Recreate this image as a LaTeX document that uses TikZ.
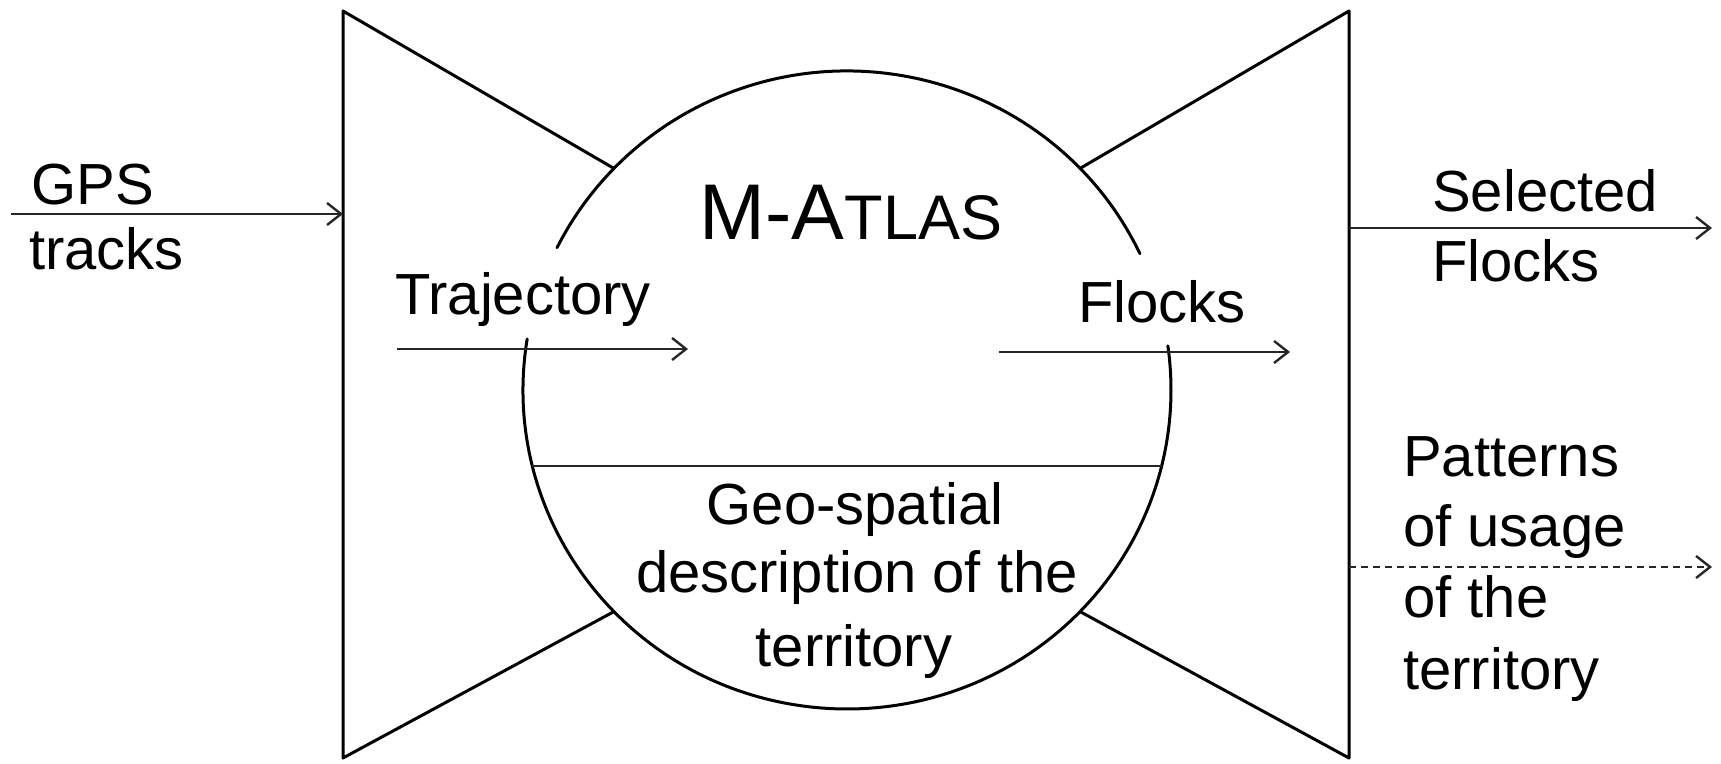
\documentclass[tikz,border=0pt]{standalone}
\usepackage{fontspec}
\setmainfont{Liberation Sans}
\usetikzlibrary{arrows.meta,calc}
\begin{document}
\begin{tikzpicture}[x=1pt,y=1pt,
  outline/.style={line width=3pt, line cap=round, line join=round},
  flow/.style={line width=2pt, draw=black!85, -{Straight Barb[length=14pt,width=22pt,line width=2.4pt]}},
  lbl/.style={inner sep=0pt, anchor=base west, font=\fontsize{58}{58}\selectfont},
  clbl/.style={inner sep=0pt, anchor=base, font=\fontsize{58}{58}\selectfont}]
\useasboundingbox (0,0) rectangle (1721,763);
% frame geometry
\coordinate (c) at (847,373);
\coordinate (ltop) at (343,752);
\coordinate (lbot) at (343,5);
\coordinate (rtop) at (1349,752);
\coordinate (rbot) at (1349,5);
\coordinate (jlt) at ($(c)+(136:324 and 319)$);
\coordinate (jrt) at ($(c)+(44:324 and 319)$);
\coordinate (jlb) at ($(c)+(224:324 and 319)$);
\coordinate (jrb) at ($(c)+(316:324 and 319)$);
\coordinate (hl) at ($(c)+(193.78:324 and 319)$);
\coordinate (hr) at ($(c)+(346.22:324 and 319)$);
% vertical sides and diagonals
\draw[outline] (jlt) -- (ltop) -- (lbot) -- (jlb);
\draw[outline] (jrt) -- (rtop) -- (rbot) -- (jrb);
% circle in two arcs
\draw[outline] ($(c)+(25.3:324 and 319)$) arc[start angle=25.3, end angle=153.5, x radius=324, y radius=319];
\draw[outline] ($(c)+(170.8:324 and 319)$) arc[start angle=170.8, end angle=367.95, x radius=324, y radius=319];
% inner horizontal line
\draw[line width=2pt, draw=black!85] (hl) -- (hr);
% texts
\node[inner sep=0pt, anchor=base] (title) at (851,523)
  {\fontsize{79}{79}\selectfont M-A{\fontsize{63}{63}\selectfont TLAS}};
\node[lbl] (gps) at (31,558) {GPS};
\node[lbl] (tracks) at (29,493) {tracks};
\node[lbl] (traj) at (395,448) {Trajectory};
\node[lbl] (flocks) at (1078,440) {Flocks};
\node[lbl] (sel) at (1432,551) {Selected};
\node[lbl] (self) at (1432,481) {Flocks};
\node[lbl] (pat1) at (1403,286) {Patterns};
\node[lbl] (pat2) at (1403,216) {of usage};
\node[lbl] (pat3) at (1403,145) {of the};
\node[lbl] (pat4) at (1403,73) {territory};
\node[clbl] (geo1) at (855,238) {Geo-spatial};
\node[clbl] (geo2) at (857,170) {description of the};
\node[clbl] (geo3) at (854,96) {territory};
% arrows
\coordinate (gpsin) at (11,549);
\coordinate (gpsout) at (343,549);
\coordinate (trajin) at (397,414);
\coordinate (trajout) at (688,414);
\coordinate (flin) at (999,411);
\coordinate (flout) at (1290,411);
\coordinate (selin) at (1349,535);
\coordinate (selout) at (1712,535);
\coordinate (patin) at (1349,196);
\coordinate (patout) at (1712,196);
\draw[flow] (gpsin) -- (gpsout);
\draw[flow] (trajin) -- (trajout);
\draw[flow] (flin) -- (flout);
\draw[flow] (selin) -- (selout);
\draw[flow, dash pattern=on 7pt off 5pt] (patin) -- (patout);
\end{tikzpicture}
\end{document}
